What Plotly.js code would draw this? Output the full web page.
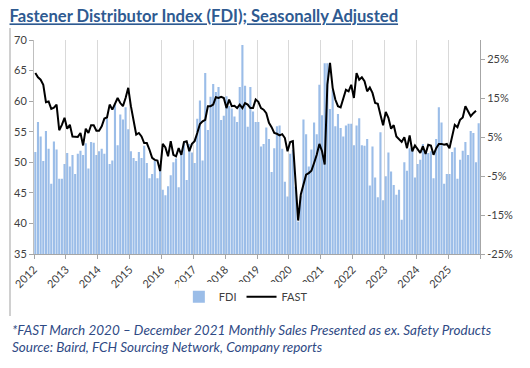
<!DOCTYPE html>
<html>
<head>
<meta charset="utf-8">
<script src="https://cdn.plot.ly/plotly-3.0.1.min.js"></script>
<style>html,body{margin:0;padding:0;background:#fff;}#chart{width:530px;height:368px;}</style>
</head>
<body>
<div id="chart"></div>
<script>
// Year labels for the monthly category axis (Jan 2012 .. Dec 2025)
const years = ['2012','2013','2014','2015','2016','2017','2018','2019','2020','2021','2022','2023','2024','2025'];

// FDI monthly values (left axis)
const fdi2012 = [51.7,56.6,54.2,50.2,55.1,52.2,46.5,53.4,52.1,47.3,47.3,49.7];
const fdi2013 = [51.5,49.3,51.2,48.1,51.4,51.9,51.2,53.1,49.0,53.3,53.2,51.2];
const fdi2014 = [51.8,52.2,51.4,57.1,49.7,50.3,59.6,52.8,57.8,57.0,59.0,55.4];
const fdi2015 = [51.8,50.7,50.2,51.7,50.7,52.7,49.9,47.4,48.1,50.2,47.4,49.3];
const fdi2016 = [45.5,44.6,46.1,47.9,50.0,50.6,45.9,51.5,53.2,47.1,53.0,51.6];
const fdi2017 = [49.9,57.1,60.1,50.3,64.6,55.3,60.7,62.8,61.5,62.3,56.9,57.6];
const fdi2018 = [60.8,59.2,58.8,57.5,56.6,62.3,69.2,62.5,55.8,62.3,58.3,56.6];
const fdi2019 = [56.6,52.6,53.0,55.7,53.8,48.4,52.3,55.9,56.0,52.2,46.8,44.4];
const fdi2020 = [51.4,52.0,46.0,40.3,44.5,57.0,54.6,49.3,52.1,56.5,54.6,62.7];
const fdi2021 = [57.7,66.2,66.2,58.7,61.9,55.9,57.9,55.6,54.2,56.0,56.3,56.3];
const fdi2022 = [52.8,56.0,57.2,52.8,52.7,53.8,46.2,52.6,47.5,44.3,54.9,43.8];
const fdi2023 = [47.7,51.6,48.5,46.3,44.7,45.5,40.6,50.0,48.6,52.3,52.1,47.5];
const fdi2024 = [49.7,50.4,53.0,51.8,51.5,51.8,47.4,53.8,59.0,56.5,46.5,48.1];
const fdi2025 = [48.1,51.7,52.4,47.3,50.4,51.9,53.3,51.2,55.1,54.8,50.0,56.4];

// FAST monthly sales growth, % (right axis)
const fast2012 = [21.5,20.4,19.8,18.5,14.0,14.2,12.3,12.6,13.4,6.8,8.2,10.0];
const fast2013 = [7.2,8.2,5.2,5.1,5.1,6.1,2.9,7.2,6.1,8.1,8.1,6.7];
const fast2014 = [6.7,7.8,9.8,10.1,13.4,12.1,13.6,15.1,13.8,13.0,15.1,17.7];
const fast2015 = [13.0,9.1,5.7,6.1,5.2,3.5,3.5,1.8,-0.3,-0.8,-1.0,-3.7];
const fast2016 = [3.3,2.4,0.1,4.0,0.5,0.1,2.2,0.5,3.8,4.0,1.4,3.3];
const fast2017 = [4.0,6.1,8.4,9.1,9.5,13.0,13.0,13.4,15.3,15.1,15.4,15.1];
const fast2018 = [12.5,14.7,13.0,13.1,12.5,13.4,12.5,13.8,13.4,12.5,12.5,14.7];
const fast2019 = [14.1,12.5,12.1,11.2,8.7,7.6,6.1,5.9,5.5,5.8,4.8,1.4];
const fast2020 = [3.8,4.0,-5.5,-16.4,-9.7,-7.2,-4.6,-4.2,-3.6,-1.6,0.5,3.3];
const fast2021 = [1.4,-2.0,18.5,24.1,17.7,14.7,13.0,12.7,15.1,17.2,16.8,18.5];
const fast2022 = [15.1,21.5,19.8,20.4,19.4,16.8,17.8,16.4,13.8,13.6,10.8,8.1];
const fast2023 = [11.5,10.0,7.2,8.1,5.2,4.4,3.8,5.0,2.2,5.5,1.4,2.9];
const fast2024 = [1.8,1.0,2.7,0.7,3.1,2.9,0.5,2.2,3.3,3.3,3.1,3.3];
const fast2025 = [2.2,5.7,8.2,7.6,9.5,10.1,13.0,11.7,10.4,11.2,11.8,null];

const fdi = [].concat(fdi2012,fdi2013,fdi2014,fdi2015,fdi2016,fdi2017,fdi2018,fdi2019,fdi2020,fdi2021,fdi2022,fdi2023,fdi2024,fdi2025);
const fast = [].concat(fast2012,fast2013,fast2014,fast2015,fast2016,fast2017,fast2018,fast2019,fast2020,fast2021,fast2022,fast2023,fast2024,fast2025);
const monthIdx = fdi.map((v,i)=>i);

const tickVals = years.map((y,k)=>k*12-0.5).concat([years.length*12-0.5]);
const tickText = years.concat(['']);

const rightTicks = [-25,-15,-5,5,15,25];
const FONT = 'Lato, "Open Sans", sans-serif';

const traces = [
  {type:'bar', name:'FDI', x:monthIdx, y:fdi, marker:{color:'#9BBDE8'}, yaxis:'y', hoverinfo:'skip'},
  {type:'scatter', mode:'lines', name:'FAST', x:monthIdx, y:fast, yaxis:'y2', line:{color:'#000000', width:2}, connectgaps:false, hoverinfo:'skip'}
];

const layout = {
  width:530, height:368,
  margin:{l:34, r:50, t:40, b:114},
  paper_bgcolor:'#ffffff', plot_bgcolor:'#ffffff',
  font:{family:FONT, size:11, color:'#404040'},
  bargap:0.2,
  showlegend:true,
  legend:{orientation:'h', x:0.475, xanchor:'center', y:-0.2, yanchor:'middle', font:{size:11, color:'#404040'}, itemwidth:30, tracegroupgap:0},
  title:{text:'Fastener Distributor Index (FDI); Seasonally Adjusted', xref:'container', x:0.018, xanchor:'left', yref:'container', y:0.955, yanchor:'middle',
         font:{family:'Lato, sans-serif', size:16.6, weight:700, color:'#2E5A91', lineposition:'under'}},
  xaxis:{range:[-0.5,167.5], tickmode:'array', tickvals:tickVals, ticktext:tickText, tickangle:-45,
         showgrid:true, gridcolor:'#D9D9D9', gridwidth:1, ticks:'outside', ticklen:4, tickcolor:'#A6A6A6',
         showline:true, linecolor:'#A6A6A6', linewidth:1, zeroline:false, tickfont:{size:11, color:'#404040'}, fixedrange:true},
  yaxis:{range:[35,70], dtick:5, tick0:35, showgrid:false, zeroline:false, ticks:'outside', ticklen:4, tickcolor:'#A6A6A6',
         showline:true, linecolor:'#BFBFBF', linewidth:1, tickfont:{size:11, color:'#404040'}, fixedrange:true},
  yaxis2:{range:[-25,30], overlaying:'y', side:'right', tickmode:'array', tickvals:rightTicks, ticktext:rightTicks.map(v=>v+'%'),
          showgrid:false, zeroline:false, ticks:'outside', ticklen:4, tickcolor:'#A6A6A6',
          showline:true, linecolor:'#A6A6A6', linewidth:1, tickfont:{size:11, color:'#404040'}, fixedrange:true},
  shapes:[
    {type:'line', xref:'paper', yref:'paper', x0:-24/446, x1:-24/446, y0:(254-28)/214, y1:(254-316)/214, line:{color:'#D0D0D0', width:2}}
  ],
  annotations:[
    {xref:'paper', yref:'paper', x:-24/446, xanchor:'left', y:(254-330)/214, yanchor:'middle', showarrow:false,
     text:'*FAST March 2020 – December 2021 Monthly Sales Presented as ex. Safety Products',
     font:{family:'Lato, sans-serif', size:13.5, style:'italic', color:'#2F4A85'}},
    {xref:'paper', yref:'paper', x:-24/446, xanchor:'left', y:(254-347)/214, yanchor:'middle', showarrow:false,
     text:'Source: Baird, FCH Sourcing Network, Company reports',
     font:{family:'Lato, sans-serif', size:13.5, style:'italic', color:'#2F4A85'}}
  ]
};

Plotly.newPlot('chart', traces, layout, {staticPlot:true, displayModeBar:false});
</script>
</body>
</html>
